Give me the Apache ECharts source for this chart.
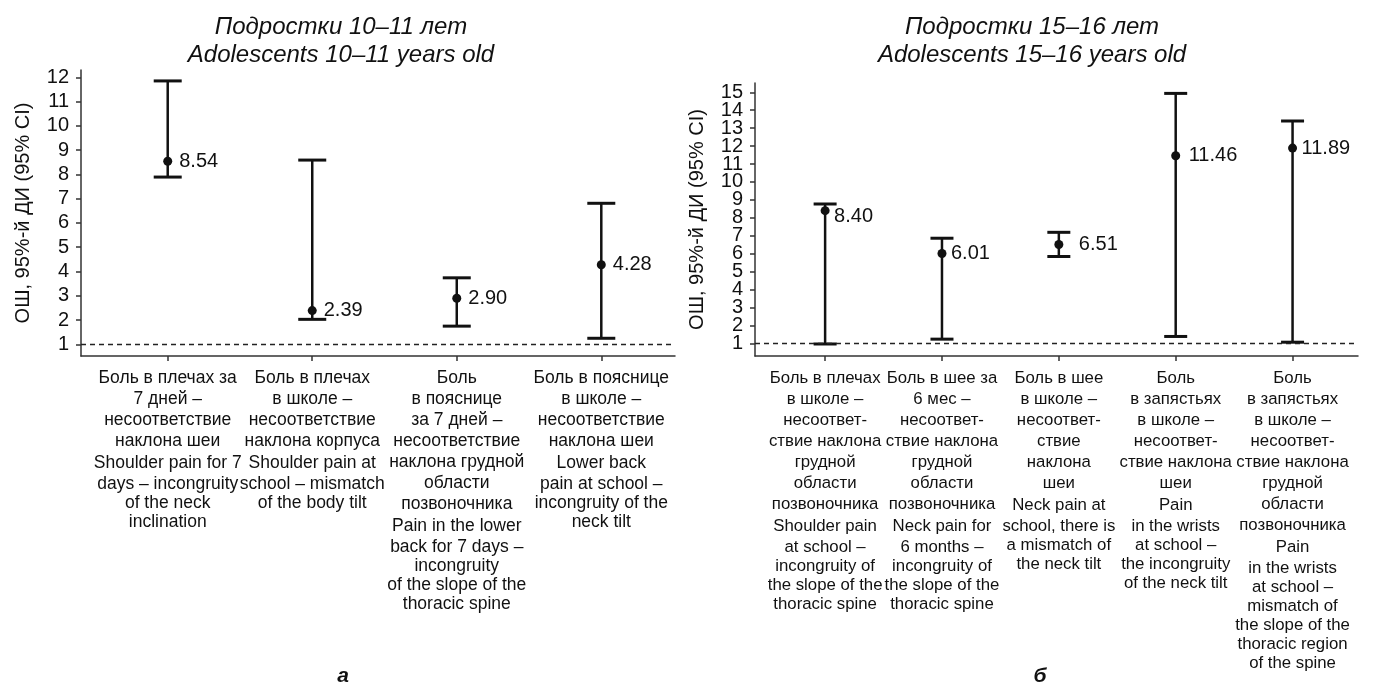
<!DOCTYPE html>
<html><head><meta charset="utf-8">
<script src="https://cdn.jsdelivr.net/npm/echarts@6/dist/echarts.min.js"></script>
<style>html,body{margin:0;padding:0;background:#fff}#c{width:1382px;height:689px}</style>
</head><body><div id="c"></div>
<script>
// ---------- Data ----------
const leftCatRu = [
  ['Боль в плечах за', '7 дней –', 'несоответствие', 'наклона шеи'],
  ['Боль в плечах', 'в школе –', 'несоответствие', 'наклона корпуса'],
  ['Боль', 'в пояснице', 'за 7 дней –', 'несоответствие', 'наклона грудной', 'области', 'позвоночника'],
  ['Боль в пояснице', 'в школе –', 'несоответствие', 'наклона шеи']
];
const leftCatEn = [
  ['Shoulder pain for 7', 'days – incongruity', 'of the neck', 'inclination'],
  ['Shoulder pain at', 'school – mismatch', 'of the body tilt'],
  ['Pain in the lower', 'back for 7 days –', 'incongruity', 'of the slope of the', 'thoracic spine'],
  ['Lower back', 'pain at school –', 'incongruity of the', 'neck tilt']
];
const leftOR   = [8.54, 2.39, 2.90, 4.28];
const leftLow  = [7.89, 2.03, 1.75, 1.25];
const leftHigh = [11.85, 8.59, 3.74, 6.81];
const leftTicks = [1, 2, 3, 4, 5, 6, 7, 8, 9, 10, 11, 12];

const rightCatRu = [
  ['Боль в плечах', 'в школе –', 'несоответ-', 'ствие наклона', 'грудной', 'области', 'позвоночника'],
  ['Боль в шее за', '6 мес –', 'несоответ-', 'ствие наклона', 'грудной', 'области', 'позвоночника'],
  ['Боль в шее', 'в школе –', 'несоответ-', 'ствие', 'наклона', 'шеи'],
  ['Боль', 'в запястьях', 'в школе –', 'несоответ-', 'ствие наклона', 'шеи'],
  ['Боль', 'в запястьях', 'в школе –', 'несоответ-', 'ствие наклона', 'грудной', 'области', 'позвоночника']
];
const rightCatEn = [
  ['Shoulder pain', 'at school –', 'incongruity of', 'the slope of the', 'thoracic spine'],
  ['Neck pain for', '6 months –', 'incongruity of', 'the slope of the', 'thoracic spine'],
  ['Neck pain at', 'school, there is', 'a mismatch of', 'the neck tilt'],
  ['Pain', 'in the wrists', 'at school –', 'the incongruity', 'of the neck tilt'],
  ['Pain', 'in the wrists', 'at school –', 'mismatch of', 'the slope of the', 'thoracic region', 'of the spine']
];
const rightOR   = [8.40, 6.01, 6.51, 11.46, 11.89];
const rightLow  = [0.96, 1.23, 5.84, 1.38, 1.06];
const rightHigh = [8.77, 6.86, 7.19, 14.94, 13.40];
const rightTicks = [1, 2, 3, 4, 5, 6, 7, 8, 9, 10, 11, 12, 13, 14, 15];

const yName = 'ОШ, 95%-й ДИ (95% CI)';
const titleLeft = ['Подростки 10–11 лет', 'Adolescents 10–11 years old'];
const titleRight = ['Подростки 15–16 лет', 'Adolescents 15–16 years old'];
const panelLetters = ['а', 'б'];

// ---------- Styles ----------
const INK = '#111';
const SANS = '"Liberation Sans", Arial, Helvetica, sans-serif';
const AX = {color: '#333', width: 1.5};

function richFor(fs) {
  return {
    ru:  {fontFamily: SANS, fontSize: fs, lineHeight: 21, color: INK},
    en1: {fontFamily: SANS, fontSize: fs, lineHeight: 23, color: INK},
    en:  {fontFamily: SANS, fontSize: fs, lineHeight: 19, color: INK}
  };
}
function catLabel(ru, en) {
  const parts = ru.map(l => '{ru|' + l + '}');
  en.forEach((l, i) => parts.push('{' + (i === 0 ? 'en1' : 'en') + '|' + l + '}'));
  return parts.join('\n');
}
// split positions into two interleaved sets so no two neighbouring labels share one axis
const odd = arr => arr.filter((_, i) => i % 2 === 0);
const even = arr => arr.filter((_, i) => i % 2 === 1);

function xAxis(gridIndex, ru, en, max, vals, main, fs) {
  return {
    type: 'value', gridIndex, min: 0.4, max, position: 'bottom',
    splitLine: {show: false},
    axisLine: {show: main, onZero: false, lineStyle: AX},
    axisTick: {show: true, customValues: vals, length: 5, lineStyle: AX},
    axisLabel: {
      customValues: vals, margin: 12, showMinLabel: true, showMaxLabel: true,
      formatter: v => catLabel(ru[Math.round(v) - 1], en[Math.round(v) - 1]),
      rich: richFor(fs), fontFamily: SANS, fontSize: fs, color: INK
    }
  };
}
function yAxis(gridIndex, vals, min, max, main) {
  return {
    type: 'value', gridIndex, min, max, position: 'left',
    name: main ? yName : '', nameLocation: 'middle', nameGap: 48, nameRotate: 90,
    nameTextStyle: {fontFamily: SANS, fontSize: 20, color: INK},
    splitLine: {show: false},
    axisLine: {show: main, onZero: false, lineStyle: AX},
    axisTick: {show: true, customValues: vals, length: 5, lineStyle: AX},
    axisLabel: {customValues: vals, margin: 12, showMinLabel: true, showMaxLabel: true,
                fontFamily: SANS, fontSize: 20, color: INK}
  };
}
function errorBars(ai, low, high, cap) {
  return {
    type: 'custom', xAxisIndex: ai, yAxisIndex: ai, z: 3, silent: true,
    data: low.map((l, i) => [i + 1, l, high[i]]),
    encode: {x: 0, y: [1, 2]},
    renderItem: (params, api) => {
      const x = api.value(0);
      const a = api.coord([x, api.value(2)]);
      const b = api.coord([x, api.value(1)]);
      const st = {stroke: '#111', lineWidth: 2.5};
      const cs = {stroke: '#111', lineWidth: 3};
      return {type: 'group', children: [
        {type: 'line', shape: {x1: a[0], y1: a[1], x2: b[0], y2: b[1]}, style: st},
        {type: 'line', shape: {x1: a[0] - cap, y1: a[1], x2: a[0] + cap, y2: a[1]}, style: cs},
        {type: 'line', shape: {x1: b[0] - cap, y1: b[1], x2: b[0] + cap, y2: b[1]}, style: cs}
      ]};
    }
  };
}
function points(ai, vals, dist, shifts) {
  return {
    type: 'scatter', xAxisIndex: ai, yAxisIndex: ai, z: 4, silent: true,
    symbol: 'circle', symbolSize: 9, itemStyle: {color: '#111', opacity: 1},
    data: vals.map((v, i) => {
      const d = {value: [i + 1, v]};
      if (shifts && shifts[i]) d.label = {offset: shifts[i]};
      return d;
    }),
    label: {show: true, position: 'right', distance: dist, formatter: p => p.value[1].toFixed(2),
            fontFamily: SANS, fontSize: 20, color: '#111', opacity: 1},
    markLine: {
      silent: true, symbol: ['none', 'none'], label: {show: false},
      lineStyle: {type: [5, 4], color: '#222', width: 1.3, opacity: 1},
      data: [{yAxis: 1}]
    }
  };
}
function textEl(text, x, y, font) {
  return {type: 'text', x, y, silent: true,
    style: {text, font, fill: INK, textAlign: 'center', textVerticalAlign: 'middle'}};
}

const titleFont = 'italic 24px "Liberation Sans", Arial, sans-serif';
const letterFont = 'italic bold 21px "Liberation Sans", Arial, sans-serif';

const lIdx = leftOR.map((_, i) => i + 1);
const rIdx = rightOR.map((_, i) => i + 1);

const option = {
  animation: false,
  backgroundColor: '#fff',
  grid: [
    {left: 81, top: 70, width: 594, height: 286},
    {left: 755, top: 83, width: 603, height: 273}
  ],
  xAxis: [
    xAxis(0, leftCatRu, leftCatEn, 4.51, odd(lIdx), true, 17.5),
    xAxis(1, rightCatRu, rightCatEn, 5.56, odd(rIdx), true, 16.8),
    xAxis(0, leftCatRu, leftCatEn, 4.51, even(lIdx), false, 17.5),
    xAxis(1, rightCatRu, rightCatEn, 5.56, even(rIdx), false, 16.8)
  ],
  yAxis: [
    yAxis(0, odd(leftTicks), 0.52, 12.3, true),
    yAxis(1, odd(rightTicks), 0.29, 15.52, true),
    yAxis(0, even(leftTicks), 0.52, 12.3, false),
    yAxis(1, even(rightTicks), 0.29, 15.52, false)
  ],
  series: [
    errorBars(0, leftLow, leftHigh, 14),
    points(0, leftOR, 7),
    errorBars(1, rightLow, rightHigh, 11.5),
    points(1, rightOR, 4.5, [[0, 6], null, [11, 0], [4, 0], null])
  ],
  graphic: [
    textEl(titleLeft[0], 341, 27, titleFont),
    textEl(titleLeft[1], 341, 55, titleFont),
    textEl(titleRight[0], 1032, 27, titleFont),
    textEl(titleRight[1], 1032, 55, titleFont),
    textEl(panelLetters[0], 343, 676, letterFont),
    textEl(panelLetters[1], 1040, 676, letterFont)
  ]
};
const chart = echarts.init(document.getElementById('c'), null, {renderer: 'canvas'});
chart.setOption(option);
</script>
</body></html>
